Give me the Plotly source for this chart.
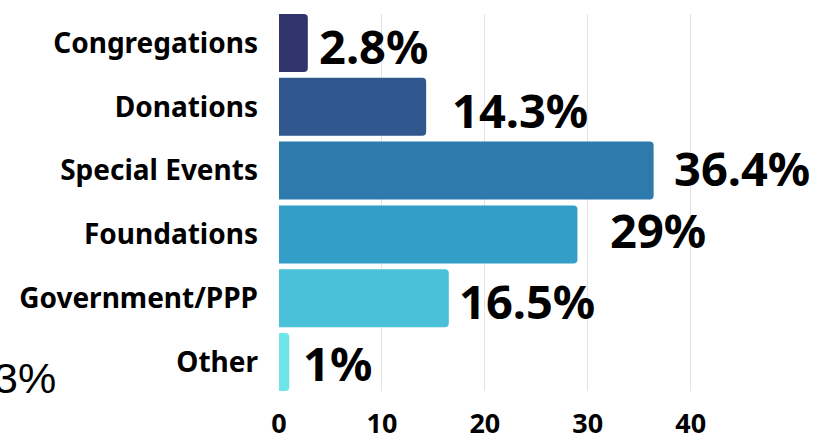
import plotly.graph_objects as go

categories = ["Congregations", "Donations", "Special Events", "Foundations", "Government/PPP", "Other"]
values = [2.8, 14.3, 36.4, 29, 16.5, 1]
value_labels = ["2.8%", "14.3%", "36.4%", "29%", "16.5%", "1%"]
bar_colors = ["#31346b", "#30578e", "#2e7aad", "#339ec8", "#4ac1d9", "#6ee5e8"]
x_ticks = [0, 10, 20, 30, 40]

# per-label offsets (style only), in pixels
label_dx = [9, 24, 18, 31, 8, 12]
label_dy = [-2.5, -3.5, 3, 4.5, -3, -1]

W, H = 814, 439
ML, MR, MT, MB = 279, 41, 14, 48
XMAX = 48

fig = go.Figure()
fig.add_trace(go.Bar(
    x=values,
    y=categories,
    orientation="h",
    marker=dict(color=bar_colors, line=dict(width=0)),
    hoverinfo="skip",
))

for cat, v, lab, dx, dy in zip(categories, values, value_labels, label_dx, label_dy):
    fig.add_annotation(
        x=v, y=cat, xref="x", yref="y",
        text=lab, showarrow=False,
        xanchor="left", yanchor="middle",
        xshift=dx, yshift=dy,
        font=dict(family="Noto Sans", size=47, color="#000000", weight="bold"),
    )

# stray partially clipped label at left edge
plot_w = W - ML - MR
fig.add_annotation(
    x=(58 - ML) / plot_w, y=(H - MB - 378) / (H - MT - MB),
    xref="paper", yref="paper",
    text="3%", showarrow=False, xanchor="right", yanchor="middle",
    font=dict(family="Liberation Sans", size=43, color="#000000"),
)

n = len(categories)
half = (1 - 0.091) / 2
fig.update_layout(
    width=W, height=H,
    margin=dict(l=ML, r=MR, t=MT, b=MB, pad=0, autoexpand=False),
    paper_bgcolor="white", plot_bgcolor="white",
    showlegend=False,
    bargap=0.091,
    barcornerradius=4,
    xaxis=dict(
        range=[0, XMAX],
        tickvals=x_ticks,
        showgrid=True, gridcolor="#e3e3e3", gridwidth=1,
        zeroline=False, showline=False,
        ticks="", ticklabelstandoff=14,
        tickfont=dict(family="Noto Sans", size=27, color="#000000", weight="bold"),
        fixedrange=True, automargin=False,
    ),
    yaxis=dict(
        categoryorder="array", categoryarray=categories,
        range=[n - 1 + half, -half],
        showgrid=False, zeroline=False, showline=False,
        ticks="", ticklabelstandoff=20,
        tickfont=dict(family="Noto Sans", size=28, color="#000000", weight="bold"),
        fixedrange=True, automargin=False,
    ),
)

fig.write_html(
    "out.html",
    config={"displayModeBar": False},
    post_script="document.body.style.margin='0';document.body.style.overflow='hidden';",
)
